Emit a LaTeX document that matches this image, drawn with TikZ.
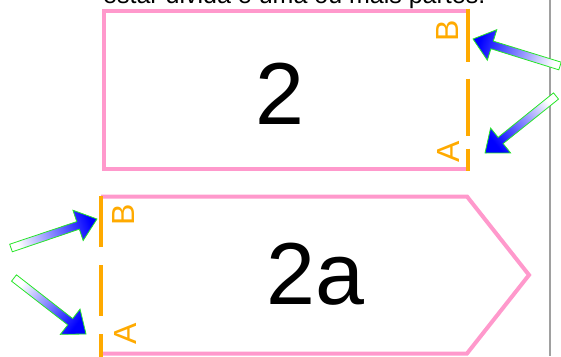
\documentclass[tikz,border=0pt]{standalone}
\usepackage{fontspec}
\setmainfont{Liberation Sans}
\usetikzlibrary{calc}
\definecolor{cPink}{RGB}{255,153,204}
\definecolor{cAmber}{RGB}{255,170,0}
\definecolor{cLime}{RGB}{40,230,40}
\definecolor{cRule}{RGB}{160,160,160}
\tikzset{
	outline/.style ={draw=cPink, line width=4pt},
	cutline/.style ={draw=cAmber, line width=4.5pt},
	partno/.style  ={font=\fontsize{88}{90}\selectfont, inner sep=0pt},
	endlbl/.style  ={text=cAmber, font=\fontsize{32}{34}\selectfont, rotate=90, inner sep=0pt},
	pointer/.style ={draw=cLime, line width=0.8pt, top color=white, bottom color=blue},
}
% block arrow: tail, tip, shading angle
\newcommand{\blockarrow}[3]{%
	\coordinate (#1-neck) at ($(#2)!20pt!(#1)$);
	\path[pointer, shading angle=#3]
		($(#1)!4pt!90:(#2)$) -- ($(#1-neck)!4pt!90:(#2)$) -- ($(#1-neck)!16pt!90:(#2)$)
		-- (#2) -- ($(#1-neck)!16pt!-90:(#2)$) -- ($(#1-neck)!4pt!-90:(#2)$)
		-- ($(#1)!4pt!-90:(#2)$) -- cycle;
}

\begin{document}
\begin{tikzpicture}[x=1pt, y=-1pt]
	\useasboundingbox (0,0) rectangle (561,356);
	\clip (0,0) rectangle (561,356);
	\node[anchor=base west, font=\fontsize{25}{30}\selectfont, inner sep=0pt] (caption) at (103,3.5) {estar divida e uma ou mais partes.};
	% part 2
	\draw[outline] (468,10.5) -- (104,10.5) -- (104,169) -- (468,169);
	\draw[cutline, dash pattern=on 53pt off 17pt on 57pt off 13pt] (468,8.5) -- (468,171);
	\node[partno] (p2) at (280,93.5) {2};
	\node[endlbl] (b2) at (447,31) {B};
	\node[endlbl] (a2) at (448,152) {A};
	% part 2a
	\draw[outline] (101,196.5) -- (467,196.5) -- (529,275) -- (467,353.5) -- (101,353.5);
	\draw[cutline, dash pattern=on 51pt off 18pt] (101,196) -- (101,358);
	\node[partno] (p2a) at (315.5,274) {2a};
	\node[endlbl] (b2a) at (123,215) {B};
	\node[endlbl] (a2a) at (125,334) {A};
	% margin rule
	\draw[cRule, line width=2.5pt] (550,0) -- (550,356);
	% pointers
	\coordinate (tB2) at (560,66);   \coordinate (hB2) at (473,39);
	\coordinate (tA2) at (556,96);   \coordinate (hA2) at (485,153);
	\coordinate (tB2a) at (11,248);  \coordinate (hB2a) at (97,219);
	\coordinate (tA2a) at (14,278);  \coordinate (hA2a) at (86,334);
	\blockarrow{tB2}{hB2}{252.8}
	\blockarrow{tA2}{hA2}{308.8}
	\blockarrow{tB2a}{hB2a}{108.6}
	\blockarrow{tA2a}{hA2a}{52.1}
\end{tikzpicture}
\end{document}
